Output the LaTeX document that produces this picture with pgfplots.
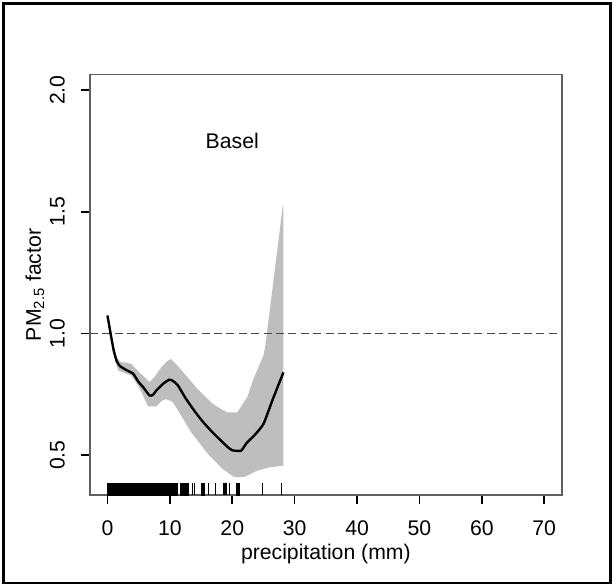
\documentclass[border=0pt]{standalone}
\usepackage{fontspec}
\setmainfont{Liberation Sans}
\usepackage{pgfplots}
\pgfplotsset{compat=1.18}

\definecolor{bandgray}{HTML}{BEBEBE}
\definecolor{boxgray}{HTML}{5F5F5F}
\definecolor{refgray}{HTML}{4A4A4A}
\newcommand{\plotfont}{\fontsize{10.6}{12.7}\selectfont}

\begin{document}
\begin{tikzpicture}
\useasboundingbox (0pt,0pt) rectangle (306.5pt,292.5pt);
% outer frame of the figure
\draw[line width=1.25pt] (1.75pt,1.1pt) rectangle (305.25pt,290.75pt);
\begin{axis}[
  at={(45pt,45pt)}, anchor=south west,
  width=235.85pt, height=210.15pt, scale only axis,
  xmin=-2.8, xmax=72.8, ymin=0.336, ymax=2.064,
  xtick={0,10,...,70}, ytick={0.5,1.0,1.5,2.0},
  tick pos=left, tick align=outside,
  major tick length=4.5pt,
  axis line style={draw=boxgray, line width=0.8pt},
  tick style={black, line width=0.8pt},
  /pgf/number format/assume math mode=true,
  yticklabel style={/pgf/number format/fixed, /pgf/number format/fixed zerofill, /pgf/number format/precision=1},
  every tick label/.append style={font=\plotfont, black},
  xticklabel style={anchor=north, yshift=-4.85pt},
  yticklabel style={xshift=-4.5pt, rotate=90, anchor=south},
  xlabel={precipitation (mm)},
  ylabel={PM\textsubscript{2.5} factor},
  label style={font=\plotfont},
  xlabel style={at={(axis description cs:0.5,0)}, anchor=center, yshift=-29.5pt},
  ylabel style={at={(axis description cs:0,0.5)}, anchor=center, rotate=0, yshift=27.5pt},
  clip=true,
]
% confidence band
\addplot[fill=bandgray, draw=none] coordinates {
  (0,1.08) (0.5,1.01) (1.0,0.95) (1.5,0.90) (2.2,0.882) (3.0,0.88)
  (3.8,0.875) (5.15,0.84) (6.75,0.80) (7.5,0.82) (8.6,0.86) (9.5,0.885)
  (10.2,0.895) (11.5,0.86) (13.0,0.815) (14.5,0.77) (16.9,0.71) (18.5,0.685)
  (19.25,0.676) (20.8,0.676) (22.4,0.738) (23.5,0.82) (25.0,0.91) (25.3,0.95)
  (28.1,1.525) (28.2,1.525)
  (28.2,0.457) (26.0,0.45) (24.0,0.436) (21.9,0.41) (20.3,0.41) (18.45,0.443)
  (16.1,0.505) (13.4,0.594) (11.0,0.697) (10.4,0.72) (9.4,0.73) (8.8,0.725)
  (7.8,0.70) (6.5,0.70) (5.15,0.775) (3.8,0.827) (1.7,0.848) (1.0,0.92)
  (0.5,0.99) (0,1.068)
};
% reference level
\addplot[refgray, dash pattern=on 4pt off 2.2pt, line width=0.65pt] coordinates {(-2.8,1) (72.8,1)};
% smooth estimate
\addplot[black, line width=1.2pt, smooth, tension=0.3] coordinates {
  (0,1.074) (0.5,1.0) (1.0,0.93) (1.5,0.885) (2.0,0.866) (3.0,0.85)
  (4.1,0.835) (5.0,0.80) (5.7,0.78) (6.75,0.745) (7.3,0.748) (7.8,0.765)
  (9.0,0.795) (9.9,0.81) (10.5,0.805) (11.3,0.786) (12.5,0.735) (13.9,0.683)
  (15.2,0.64) (16.6,0.60) (18.45,0.553) (19.2,0.535) (20.0,0.52) (21.4,0.518)
  (22.3,0.55) (23.5,0.58) (25.0,0.628) (26.5,0.73) (28.2,0.84)
};
% rug of observed precipitation values
\addplot[fill=black, draw=none] coordinates {(0,0.30) (0,0.387) (11.3,0.387) (11.3,0.30)};
\addplot[fill=black, draw=none] coordinates {(11.7,0.30) (11.7,0.387) (13.0,0.387) (13.0,0.30)};
\addplot[fill=black, draw=none] coordinates {(15.0,0.30) (15.0,0.387) (15.7,0.387) (15.7,0.30)};
\addplot[fill=black, draw=none] coordinates {(20.6,0.30) (20.6,0.387) (21.2,0.387) (21.2,0.30)};
\addplot[ycomb, black, line width=0.6pt] coordinates {
  (13.65,0.387) (14.0,0.387) (16.2,0.387) (17.3,0.387) (18.6,0.387)
  (18.8,0.387) (19.0,0.387) (19.6,0.387) (24.9,0.387) (27.95,0.387)
};
\node[font=\plotfont] at (axis cs:20,1.79) {Basel};
\end{axis}
\end{tikzpicture}
\end{document}
